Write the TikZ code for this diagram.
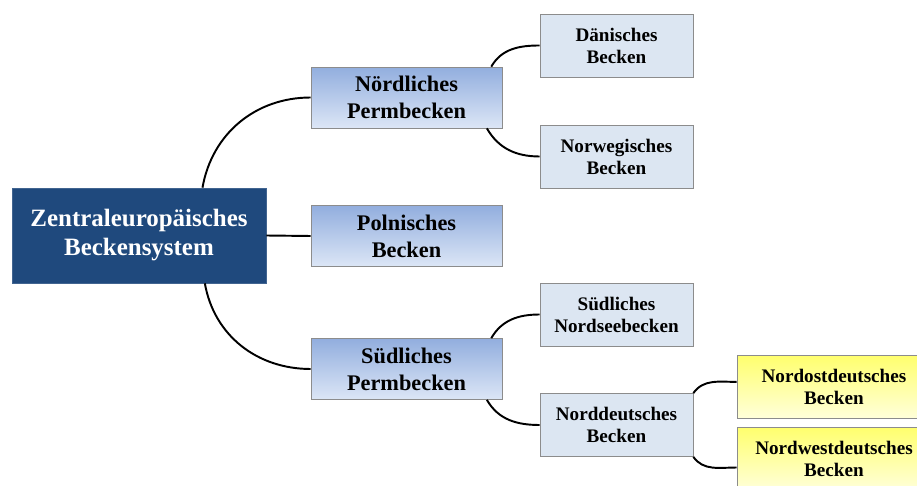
\documentclass[tikz,border=0pt]{standalone}
\usepackage{fontspec}
\setmainfont{Liberation Serif}
\definecolor{rootblue}{RGB}{31,73,125}
\definecolor{blueA}{RGB}{146,174,222}
\definecolor{blueB}{RGB}{220,230,246}
\definecolor{paleblue}{RGB}{220,230,242}
\definecolor{yellowA}{RGB}{255,255,110}
\definecolor{yellowB}{RGB}{255,255,218}
\definecolor{boxline}{RGB}{140,140,140}
\def\conn{\draw[line width=1.1pt]}

\begin{document}
\begin{tikzpicture}[x=0.02cm,y=0.02cm,
    root/.style={fill=rootblue,draw=rootblue!85!white,text=white,minimum width=5.08cm,
      minimum height=1.9cm,align=center,font=\fontsize{14.2}{16.5}\selectfont\bfseries},
    lvlone/.style={draw=boxline,top color=blueA,bottom color=blueB,minimum width=3.82cm,
      minimum height=1.22cm,align=center,font=\fontsize{12.7}{15.3}\selectfont\bfseries},
    lvltwo/.style={draw=boxline,fill=paleblue,minimum width=3.06cm,minimum height=1.26cm,
      align=center,font=\fontsize{10.9}{12.5}\selectfont\bfseries},
    lvlthree/.style={draw=boxline,top color=yellowA,bottom color=yellowB,minimum width=3.88cm,
      minimum height=1.26cm,align=center,font=\fontsize{10.9}{12.5}\selectfont\bfseries}]
  \useasboundingbox (0,0) rectangle (917,-486);
  \node[root] (zeb) at (139,-235.5) {Zentraleuropäisches\\Beckensystem};
  % erste Ebene
  \node[lvlone] (npb) at (406.5,-97.5) {Nördliches\\Permbecken};
  \node[lvlone] (pol) at (406.5,-236) {Polnisches\\Becken};
  \node[lvlone] (spb) at (406.5,-369) {Südliches\\Permbecken};
  % zweite Ebene
  \node[lvltwo] (dan) at (616.5,-45.5) {Dänisches\\Becken};
  \node[lvltwo] (nor) at (616.5,-156.5) {Norwegisches\\Becken};
  \node[lvltwo] (snb) at (616.5,-314.5) {Südliches\\Nordseebecken};
  \node[lvltwo] (ndb) at (616.5,-425) {Norddeutsches\\Becken};
  % dritte Ebene
  \node[lvlthree] (nodb) at (834,-387) {Nordostdeutsches\\Becken};
  \node[lvlthree] (nwdb) at (834,-459) {Nordwestdeutsches\\Becken};

  \conn (zeb.37.5) to[out=80,in=180] (npb.west);
  \conn (zeb.east) -- (pol.west);
  \conn (zeb.-36) to[out=-80,in=180] (spb.west);
  \conn (npb.20) to[out=60,in=180] (dan.west);
  \conn (npb.-21) to[out=-60,in=180] (nor.west);
  \conn (spb.20) to[out=60,in=180] (snb.west);
  \conn (spb.-21) to[out=-60,in=180] (ndb.west);
  \conn (ndb.north east) to[out=55,in=180] (nodb.177);
  \conn (ndb.south east) to[out=-55,in=180] (nwdb.185);
\end{tikzpicture}
\end{document}
